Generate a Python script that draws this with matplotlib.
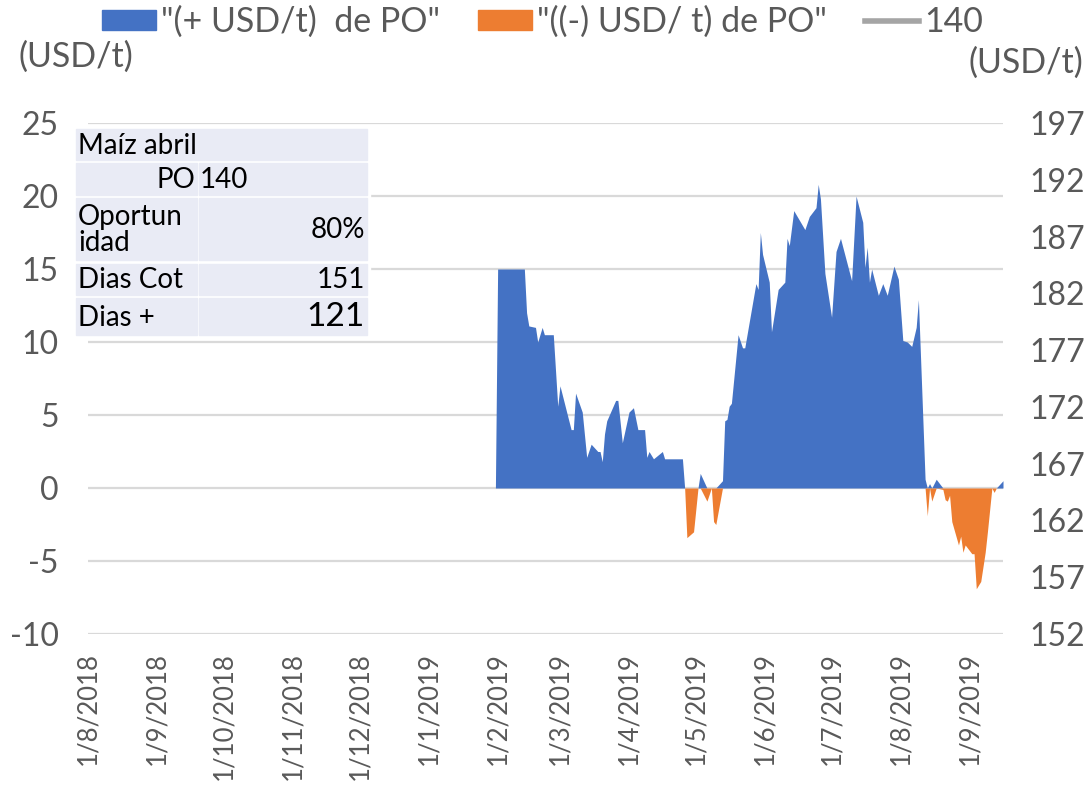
import numpy as np
import pandas as pd
import matplotlib
matplotlib.use('Agg')
import matplotlib.pyplot as plt
from matplotlib.patches import Patch, Rectangle
from matplotlib.lines import Line2D
from matplotlib.ticker import FixedLocator

plt.rcParams['font.family'] = ['Lato', 'DejaVu Sans']
plt.rcParams['axes.unicode_minus'] = False

# daily margin vs. objective price (USD/t)
dates = ['2019-01-31', '2019-02-01', '2019-02-13', '2019-02-14', '2019-02-15',
         '2019-02-18', '2019-02-19', '2019-02-21', '2019-02-22', '2019-02-26',
         '2019-02-28', '2019-03-01', '2019-03-06', '2019-03-07', '2019-03-08',
         '2019-03-11', '2019-03-13', '2019-03-15', '2019-03-18', '2019-03-19',
         '2019-03-20', '2019-03-21', '2019-03-22', '2019-03-26', '2019-03-27',
         '2019-03-29', '2019-04-01', '2019-04-03', '2019-04-05', '2019-04-08',
         '2019-04-09', '2019-04-10', '2019-04-12', '2019-04-16', '2019-04-17',
         '2019-04-25', '2019-04-26', '2019-04-27', '2019-04-30', '2019-05-02',
         '2019-05-03', '2019-05-06', '2019-05-08', '2019-05-09', '2019-05-10',
         '2019-05-13', '2019-05-14', '2019-05-15', '2019-05-16', '2019-05-17',
         '2019-05-20', '2019-05-22', '2019-05-23', '2019-05-28', '2019-05-29',
         '2019-05-30', '2019-05-31', '2019-06-03', '2019-06-04', '2019-06-07',
         '2019-06-10', '2019-06-11', '2019-06-12', '2019-06-14', '2019-06-19',
         '2019-06-21', '2019-06-24', '2019-06-25', '2019-06-26', '2019-06-28',
         '2019-07-01', '2019-07-03', '2019-07-05', '2019-07-10', '2019-07-12',
         '2019-07-15', '2019-07-16', '2019-07-17', '2019-07-18', '2019-07-19',
         '2019-07-22', '2019-07-24', '2019-07-26', '2019-07-29', '2019-07-31',
         '2019-08-02', '2019-08-04', '2019-08-06', '2019-08-08', '2019-08-09',
         '2019-08-12', '2019-08-13', '2019-08-14', '2019-08-15', '2019-08-17',
         '2019-08-20', '2019-08-21', '2019-08-22', '2019-08-23', '2019-08-24',
         '2019-08-27', '2019-08-28', '2019-08-29', '2019-08-30', '2019-09-02',
         '2019-09-03', '2019-09-04', '2019-09-06', '2019-09-08', '2019-09-09',
         '2019-09-10', '2019-09-11', '2019-09-12', '2019-09-13', '2019-09-16']
margin = [0.0, 15.0, 15.0, 12.0, 11.1,
          11.0, 10.0, 11.0, 10.5, 10.5,
          5.6, 7.0, 4.0, 4.0, 6.5,
          5.2, 2.1, 3.0, 2.5, 2.5,
          1.8, 3.7, 4.6, 6.0, 6.0,
          3.1, 5.2, 5.5, 4.0, 4.0,
          2.1, 2.5, 2.0, 2.5, 2.0,
          2.0, 0.0, -3.4, -3.0, 0.0,
          1.0, -0.9, 0.0, -2.3, -2.5,
          0.5, 4.6, 4.7, 5.6, 5.8,
          10.5, 9.6, 9.6, 14.0, 13.6,
          17.5, 16.0, 14.1, 10.7, 13.6,
          14.1, 17.1, 16.6, 19.0, 17.7,
          18.6, 19.2, 20.8, 19.8, 14.7,
          11.7, 16.2, 17.1, 14.2, 20.0,
          18.2, 15.1, 16.5, 14.1, 15.0,
          13.2, 14.0, 13.2, 15.2, 14.3,
          10.1, 10.0, 9.7, 11.0, 12.9,
          0.6, -1.9, 0.3, -0.9, 0.6,
          -0.1, -0.8, -0.9, -0.5, -2.3,
          -3.9, -3.3, -4.4, -3.9, -4.5,
          -4.5, -6.9, -6.4, -4.4, -3.0,
          -1.5, 0.0, -0.3, 0.0, 0.5]
po_price = 140

table_rows = [('PO', '140'), ('Oportun\nidad', '80%'),
              ('Dias Cot', '151'), ('Dias +', '121')]
table_title = 'Maíz abril'

BLUE = '#4472C4'
ORANGE = '#ED7D31'
GRAY = '#A5A5A5'
TXT = '#595959'

x = pd.to_datetime(dates)
v = np.array(margin)
pos = np.maximum(v, 0)
neg = np.minimum(v, 0)

fig = plt.figure(figsize=(10.89, 7.87), dpi=100)
ax = fig.add_axes([88 / 1089, 1 - 634 / 787, (1003 - 88) / 1089, (634 - 123) / 787])

ax.fill_between(x, 0, pos, color=BLUE, lw=0, zorder=3)
ax.fill_between(x, 0, neg, color=ORANGE, lw=0, zorder=3)

ax.set_ylim(-10, 25)
ax.set_yticks(np.arange(-10, 26, 5))
ax.set_xlim(pd.Timestamp('2018-08-01'), pd.Timestamp('2019-09-16'))
months = pd.date_range('2018-08-01', '2019-09-01', freq='MS')
ax.xaxis.set_major_locator(FixedLocator(matplotlib.dates.date2num(months)))
ax.set_xticklabels(['%d/%d/%d' % (d.day, d.month, d.year) for d in months],
                   rotation=90, va='top', ha='center')
ax.grid(axis='y', color='#d9d9d9', lw=1.6, zorder=0)
ax.set_axisbelow(True)
for s in ax.spines.values():
    s.set_visible(False)
ax.tick_params(axis='y', length=0, labelsize=23, labelcolor=TXT, pad=21)
ax.tick_params(axis='x', length=0, labelsize=18.5, labelcolor=TXT, pad=13)

ax2 = ax.twinx()
ax2.plot(x, [po_price] * len(x), color=GRAY, lw=2.5)
ax2.set_ylim(152, 197)
ax2.set_yticks(np.arange(152, 198, 5))
for s in ax2.spines.values():
    s.set_visible(False)
ax2.tick_params(axis='y', length=0, labelsize=23, labelcolor=TXT, pad=19)

fig.text(18 / 1089, 1 - 57 / 787, '(USD/t)', fontsize=24.5, color=TXT,
         ha='left', va='center')
fig.text(1083 / 1089, 1 - 63 / 787, '(USD/t)', fontsize=24.5, color=TXT,
         ha='right', va='center')

handles = [Patch(color=BLUE), Patch(color=ORANGE),
           Line2D([0], [0], color=GRAY, lw=4)]
labels = ['"(+ USD/t)  de PO"', '"((-) USD/ t) de PO"', str(po_price)]
leg = fig.legend(handles, labels, loc='center', bbox_to_anchor=(0.498, 1 - 22 / 787),
                 ncol=3, frameon=False, fontsize=24.5, handlelength=1.6,
                 handleheight=0.55, handletextpad=0.15, columnspacing=1.1)
for t in leg.get_texts():
    t.set_color(TXT)

# summary table drawn in pixel coordinates
ov = fig.add_axes([0, 0, 1, 1], zorder=5)
ov.set_xlim(0, 1089)
ov.set_ylim(787, 0)
ov.axis('off')
cell = '#e9ebf5'
ov.add_patch(Rectangle((74, 127), 296, 210, color='white'))
ov.add_patch(Rectangle((76, 129), 291, 31, color=cell))
ov.text(78, 146, table_title, fontsize=20, va='center', ha='left')
row_y = [(163, 195), (198, 260), (264, 295), (298, 335)]
for i, ((lab, val), (y0, y1)) in enumerate(zip(table_rows, row_y)):
    ov.add_patch(Rectangle((76, y0), 121, y1 - y0, color=cell))
    ov.add_patch(Rectangle((199, y0), 168, y1 - y0, color=cell))
    ym = (y0 + y1) / 2 + 1
    if i == 0:
        ov.text(195, ym, lab, fontsize=20, va='center', ha='right')
        ov.text(200, ym, val, fontsize=20, va='center', ha='left')
    else:
        ov.text(78, ym, lab, fontsize=20, va='center', ha='left', linespacing=1.0)
        ov.text(365, ym, val, fontsize=24 if i == 3 else 20, va='center', ha='right')

fig.savefig('out.png', dpi=100)
